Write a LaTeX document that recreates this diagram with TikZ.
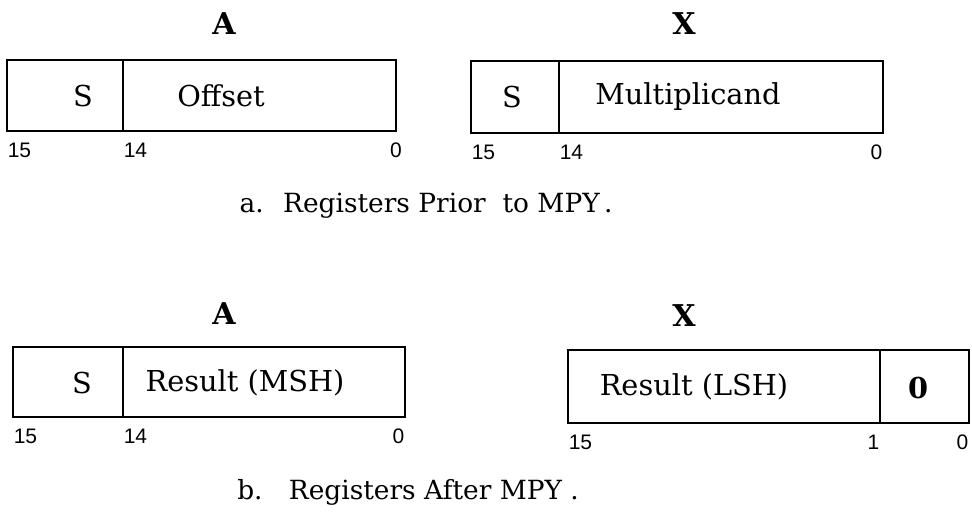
\documentclass[tikz,border=0pt]{standalone}
\usepackage{fontspec}
\setmainfont{DejaVu Serif}
\setsansfont{Liberation Sans}
\usetikzlibrary{positioning}

\begin{document}
\begin{tikzpicture}[x=0.5pt, y=-0.5pt, thick,
                field/.style={draw, rectangle, inner sep=0pt, outer sep=0pt},
                regname/.style={font=\bfseries\fontsize{15}{17}\selectfont},
                txt/.style={font=\fontsize{14.4}{17}\selectfont},
                bit/.style={font=\sffamily\fontsize{10.5}{12}\selectfont, inner sep=0pt, yshift=-5.5pt},
                caption/.style={font=\fontsize{13.2}{16}\selectfont}]

                \useasboundingbox (0,0) rectangle (972,513);

                % a. registers prior to MPY
                \node[regname] (nA1) at (224,24) {A};
                \node[field, minimum width=58pt, minimum height=35.5pt, anchor=north west] (aS) at (7,60) {};
                \node[field, minimum width=136.5pt, minimum height=35.5pt, right=0pt of aS] (aOff) {};
                \node[txt] (tS1) at (83,96) {S};
                \node[txt] (tOff) at (221,96) {Offset};
                \node[bit, anchor=north west] (b15a) at (aS.south west) {15};
                \node[bit, anchor=north west] (b14a) at (aS.south east) {14};
                \node[bit, anchor=north] (b0a) at (aOff.south east) {0};

                \node[regname] (nX1) at (684,24) {X};
                \node[field, minimum width=44pt, minimum height=36pt, anchor=north west] (xS) at (471,61) {};
                \node[field, minimum width=162pt, minimum height=36pt, right=0pt of xS] (xMul) {};
                \node[txt] (tS2) at (512,97) {S};
                \node[txt] (tMul) at (688,97) {Multiplicand};
                \node[bit, anchor=north west] (b15x) at (xS.south west) {15};
                \node[bit, anchor=north west] (b14x) at (xS.south east) {14};
                \node[bit, anchor=north east] (b0x) at (xMul.south east) {0};

                \node[caption] (capA) at (426,206) {a.~ Registers Prior~ to MPY\,.};

                % b. registers after MPY
                \node[regname] (nA2) at (224,314) {A};
                \node[field, minimum width=55pt, minimum height=35pt, anchor=north west] (rS) at (13,347) {};
                \node[field, minimum width=141pt, minimum height=35pt, right=0pt of rS] (rMsh) {};
                \node[txt] (tS3) at (82,383) {S};
                \node[txt] (tMsh) at (245,383) {Result (MSH)};
                \node[bit, anchor=north west] (b15r) at (rS.south west) {15};
                \node[bit, anchor=north west] (b14r) at (rS.south east) {14};
                \node[bit, anchor=north east] (b0r) at (rMsh.south east) {0};

                \node[regname] (nX2) at (684,316) {X};
                \node[field, minimum width=156pt, minimum height=36.5pt, anchor=north west] (rLsh) at (568,350) {};
                \node[field, minimum width=44.5pt, minimum height=36.5pt, right=0pt of rLsh] (rZero) {};
                \node[txt] (tLsh) at (694,387) {Result (LSH)};
                \node[txt, font=\bfseries\fontsize{14.4}{17}\selectfont] (tZero) at (918,388) {0};
                \node[bit, anchor=north west] (b15l) at (rLsh.south west) {15};
                \node[bit, anchor=north east] (b1l) at (rLsh.south east) {1};
                \node[bit, anchor=north east] (b0l) at (rZero.south east) {0};

                \node[caption] (capB) at (408,492) {b.\quad Registers After MPY\ .};
\end{tikzpicture}
\end{document}
